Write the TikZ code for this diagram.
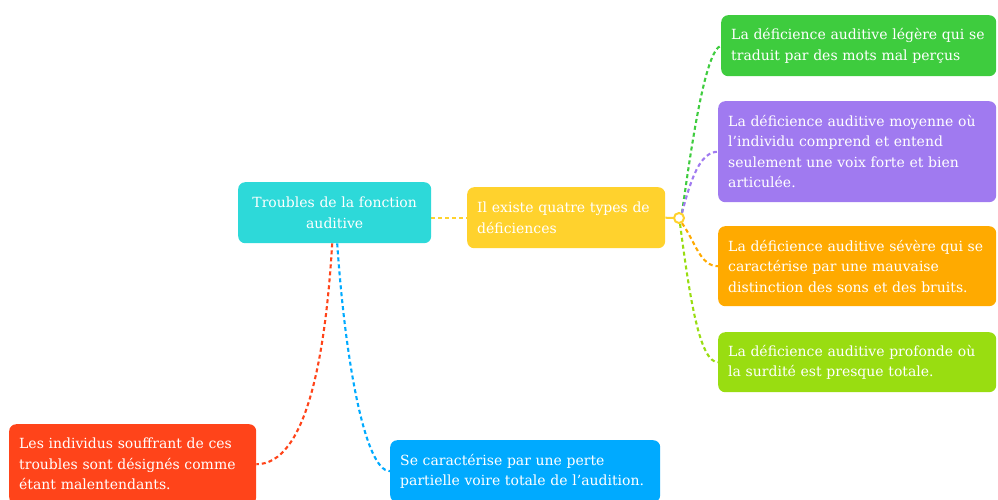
\documentclass[tikz,border=0pt]{standalone}
\usepackage{fontspec}
\setmainfont{DejaVu Serif}
\usetikzlibrary{positioning,backgrounds}
\definecolor{rootcol}{HTML}{2DD9D9}
\definecolor{typescol}{HTML}{FFD22D}
\definecolor{legerecol}{HTML}{3ECC3E}
\definecolor{moyennecol}{HTML}{A07AF0}
\definecolor{severecol}{HTML}{FFAA00}
\definecolor{profondecol}{HTML}{99DD11}
\definecolor{malentcol}{HTML}{FF441A}
\definecolor{pertecol}{HTML}{00AAFF}

\begin{document}
\begin{tikzpicture}[x=1pt, y=-1pt,
	box/.style={rounded corners=7pt, text=white, inner xsep=10pt, inner ysep=0pt, align=left, anchor=north west, font=\fontsize{14}{20.5}\selectfont},
	link/.style={line width=2.1pt, dash pattern=on 4pt off 3pt}]
		\useasboundingbox (0,0) rectangle (998,499);
		\clip (0,0) rectangle (998,499);

		\node[box,fill=rootcol,align=center,text width=173pt,minimum height=61pt] (root) at (238,182) {Troubles de la fonction\\auditive};
		\node[box,fill=typescol,text width=178pt,minimum height=61pt] (types) at (467,187) {Il existe quatre types de\\déficiences};
		\node[circle,draw=typescol,fill=white,line width=2pt,minimum size=10pt,inner sep=0pt] (hub) at (679,218) {};

		\node[box,fill=legerecol,text width=255pt,minimum height=61pt] (legere) at (721,15) {La déficience auditive légère qui se\\traduit par des mots mal perçus};
		\node[box,fill=moyennecol,text width=258pt,minimum height=101pt] (moyenne) at (718,101) {La déficience auditive moyenne où\\l’individu comprend et entend\\seulement une voix forte et bien\\articulée.};
		\node[box,fill=severecol,text width=258pt,minimum height=80pt] (severe) at (718,226) {La déficience auditive sévère qui se\\caractérise par une mauvaise\\distinction des sons et des bruits.};
		\node[box,fill=profondecol,text width=258pt,minimum height=60pt] (profonde) at (718,332) {La déficience auditive profonde où\\la surdité est presque totale.};

		\node[box,fill=malentcol,text width=227pt,minimum height=80pt] (malent) at (9,424) {Les individus souffrant de ces\\troubles sont désignés comme\\étant malentendants.};
		\node[box,fill=pertecol,text width=250pt,minimum height=62pt] (perte) at (390,440) {Se caractérise par une perte\\partielle voire totale de l’audition.};

		% branches, behind the boxes
		\begin{scope}[on background layer]
		\draw[link,typescol] (types.west -| root.east) -- (types.west);
		\draw[typescol,line width=2pt] (types.east) -- (hub.west);
		\draw[link,legerecol] (hub.60) .. controls +(9,-64) and +(-16,4.5) .. (legere.west);
		\draw[link,moyennecol] (hub.60) .. controls +(9,-34) and +(-18,0) .. (moyenne.west);
		\draw[link,severecol] (hub.-60) .. controls +(13,18) and +(-18,0) .. (severe.west);
		\draw[link,profondecol] (hub.-80) .. controls +(10,77) and +(-18,0) .. (profonde.west);
		\draw[link,malentcol] ([xshift=-2.5pt]root.south) .. controls +(-7,117) and +(49,0) .. (malent.east);
		\draw[link,pertecol] ([xshift=2.5pt]root.south) .. controls +(8,117) and +(-25,0) .. (perte.west);
		\end{scope}
	\end{tikzpicture}
\end{document}
